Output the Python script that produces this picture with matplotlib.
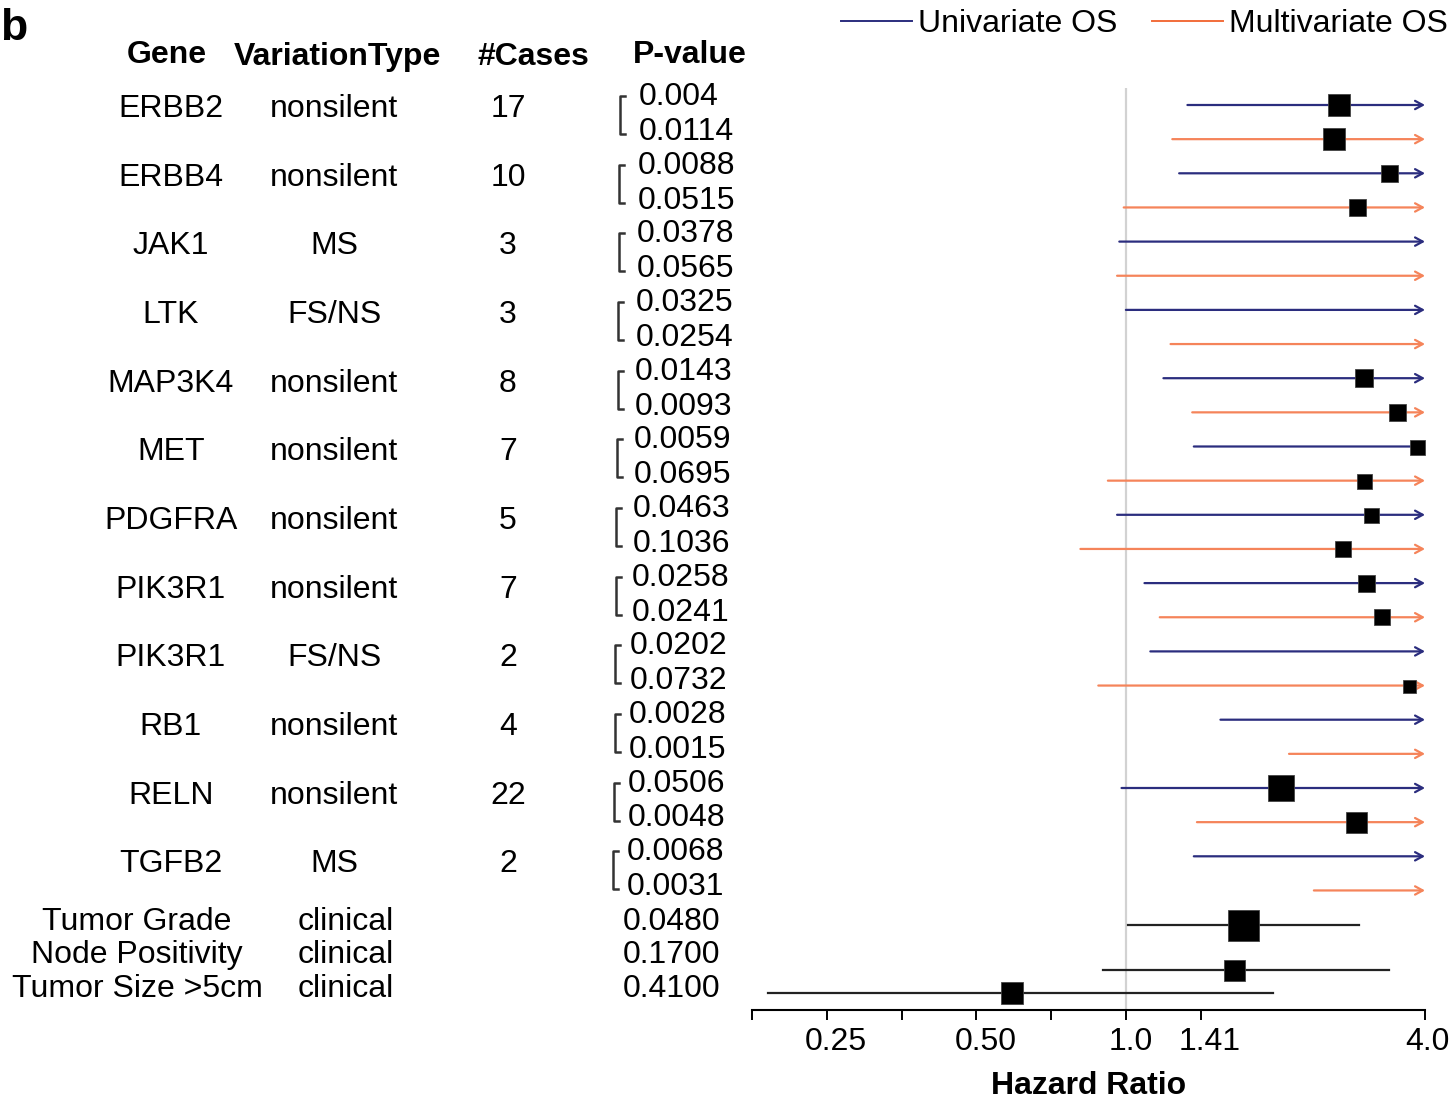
import numpy as np
import matplotlib
matplotlib.use("Agg")
import matplotlib.pyplot as plt
from matplotlib.lines import Line2D
from matplotlib.ticker import NullFormatter
from matplotlib.transforms import ScaledTranslation

# ---------------- data ----------------
genes = ["ERBB2", "ERBB4", "JAK1", "LTK", "MAP3K4", "MET", "PDGFRA",
         "PIK3R1", "PIK3R1", "RB1", "RELN", "TGFB2"]
variation = ["nonsilent", "nonsilent", "MS", "FS/NS", "nonsilent", "nonsilent",
             "nonsilent", "nonsilent", "FS/NS", "nonsilent", "nonsilent", "MS"]
cases = [17, 10, 3, 3, 8, 7, 5, 7, 2, 4, 22, 2]
p_uni = ["0.004", "0.0088", "0.0378", "0.0325", "0.0143", "0.0059",
         "0.0463", "0.0258", "0.0202", "0.0028", "0.0506", "0.0068"]
p_multi = ["0.0114", "0.0515", "0.0565", "0.0254", "0.0093", "0.0695",
           "0.1036", "0.0241", "0.0732", "0.0015", "0.0048", "0.0031"]
# hazard ratios (None = estimate beyond the plotted range); upper CI of all gene rows > 4.0
hr_uni = [2.69, 3.38, None, None, 3.01, 3.86, 3.11, 3.05, None, None, 2.05, None]
lo_uni = [1.33, 1.28, 0.97, 1.00, 1.19, 1.37, 0.96, 1.09, 1.12, 1.55, 0.98, 1.37]
hr_multi = [2.62, 2.92, None, None, 3.52, 3.01, 2.73, 3.28, 3.72, None, 2.91, None]
lo_multi = [1.24, 0.99, 0.96, 1.23, 1.36, 0.92, 0.81, 1.17, 0.88, 2.13, 1.39, 2.39]
weight_uni = [23, 17, 0, 0, 18, 15, 15, 17, 0, 0, 26, 0]
weight_multi = [22, 17, 0, 0, 17, 15, 16, 16, 13, 0, 21, 0]

clin_names = ["Tumor Grade", "Node Positivity", "Tumor Size >5cm"]
clin_type = ["clinical", "clinical", "clinical"]
clin_p = ["0.0480", "0.1700", "0.4100"]
clin_hr = [1.72, 1.65, 0.59]
clin_lo = [1.01, 0.90, 0.19]
clin_hi = [2.95, 3.39, 1.98]
clin_weight = [31, 21, 22]

tick_vals = [0.25, 0.5, 1.0, 2 ** 0.5, 4.0]
tick_labels = ["0.25", "0.50", "1.0", "1.41", "4.0"]
minor_vals = [2 ** -2.5, 2 ** -1.5, 2 ** -0.5]

# ---------------- style / layout ----------------
W, H = 1451, 1099
FS = 23
NAVY = "#2b2d7e"
ORANGE = "#f5845a"
plt.rcParams["font.family"] = ["Liberation Sans", "DejaVu Sans"]

fig = plt.figure(figsize=(W / 100, H / 100), dpi=100)

x_left, x_right = 752, 1425
y_top, y_axis = 88, 1010
row0, row_gap = 105, 34.15
ax = fig.add_axes([x_left / W, 1 - y_axis / H, (x_right - x_left) / W, (y_axis - y_top) / H])
ax.set_xscale("log", base=2)
ax.set_xlim(2 ** -2.5, 4.0)
ax.set_ylim((y_axis - row0) / row_gap, (y_top - row0) / row_gap)
ax.patch.set_alpha(0)

for s in ["top", "right", "left"]:
    ax.spines[s].set_visible(False)
ax.spines["bottom"].set_linewidth(1.5)
ax.set_yticks([])
ax.set_xticks(tick_vals)
ax.set_xticklabels(tick_labels)
ax.set_xticks(minor_vals, minor=True)
ax.xaxis.set_minor_formatter(NullFormatter())
ax.tick_params(axis="x", which="both", direction="out", length=7, width=1.4,
               labelsize=FS, pad=5)
ax.set_xlabel("Hazard Ratio", fontsize=FS, fontweight="bold", labelpad=10)
label_shift_px = [9, 9, 5, 9, 2]
for lab, dx in zip(ax.get_xticklabels(), label_shift_px):
    lab.set_transform(lab.get_transform() + ScaledTranslation(dx / 100, 0, fig.dpi_scale_trans))

ax.axvline(1.0, color="#d2d2d2", lw=1.6, zorder=0)

arrow_style = "->,head_length=0.55,head_width=0.3"


def ci_arrow(lo, y, color):
    ax.annotate("", xy=(4.0, y), xytext=(lo, y),
                arrowprops=dict(arrowstyle=arrow_style, color=color, lw=1.6,
                                shrinkA=0, shrinkB=0, mutation_scale=10),
                annotation_clip=False)


def box(hr, y, w):
    if hr is None or w == 0:
        return
    ax.plot([hr], [y], marker="s", ms=w * 0.72, color="black", mec="#444444",
            mew=0.6, zorder=4, clip_on=False)


for i in range(len(genes)):
    yu, ym = 2 * i, 2 * i + 1
    ci_arrow(lo_uni[i], yu, NAVY)
    ci_arrow(lo_multi[i], ym, ORANGE)
    box(hr_uni[i], yu, weight_uni[i])
    box(hr_multi[i], ym, weight_multi[i])

clin_rows = [24.0, 25.33, 26.0]
for j in range(len(clin_names)):
    ax.plot([clin_lo[j], clin_hi[j]], [clin_rows[j]] * 2, color="#222222", lw=1.6,
            zorder=2, clip_on=False)
    box(clin_hr[j], clin_rows[j], clin_weight[j])

# legend
handles = [Line2D([], [], color=NAVY, lw=1.4), Line2D([], [], color="#f26d3a", lw=1.4)]
fig.legend(handles, ["Univariate OS", "Multivariate OS"], loc="upper right",
           bbox_to_anchor=(1448 / W, 1 - 9 / H), ncol=2, frameon=False,
           fontsize=FS, handlelength=2.2, handletextpad=0.2, columnspacing=1.1,
           borderpad=0, borderaxespad=0)

# ---------------- table text ----------------
tax = fig.add_axes([0, 0, 1, 1])
tax.set_xlim(0, W)
tax.set_ylim(H, 0)
tax.axis("off")

dy = 3
tax.text(0, 28, "b", fontsize=32, fontweight="bold", ha="left", va="center")
for label, x, y in [("Gene", 167, 52), ("VariationType", 337, 54),
                    ("#Cases", 533, 54), ("P-value", 690, 52)]:
    tax.text(x, y + dy, label, fontsize=FS, fontweight="bold", ha="center", va="center")

gene_y0, gene_gap = 106, 68.65
for i in range(len(genes)):
    y = gene_y0 + gene_gap * i + dy
    tax.text(171, y, genes[i], fontsize=FS, ha="center", va="center")
    tax.text(334, y, variation[i], fontsize=FS, ha="center", va="center")
    tax.text(508, y, str(cases[i]), fontsize=FS, ha="center", va="center")
    y1 = 94 + gene_gap * i
    y2 = y1 + 35
    xp = 639 - 1.1 * i
    tax.text(xp, y1 + dy, p_uni[i], fontsize=FS, ha="left", va="center")
    tax.text(xp, y2 + dy, p_multi[i], fontsize=FS, ha="left", va="center")
    xb = 620 - 0.6 * i
    tax.plot([xb + 5, xb, xb, xb + 5], [y1 + 2, y1 + 2, y2 + 5, y2 + 5],
             color="#333333", lw=1.8)

for j, y in enumerate([919, 952, 986]):
    tax.text(137, y + dy, clin_names[j], fontsize=FS, ha="center", va="center")
    tax.text(346, y + dy, clin_type[j], fontsize=FS, ha="center", va="center")
    tax.text(720, y + dy, clin_p[j], fontsize=FS, ha="right", va="center")

fig.savefig("out.png", dpi=100)
